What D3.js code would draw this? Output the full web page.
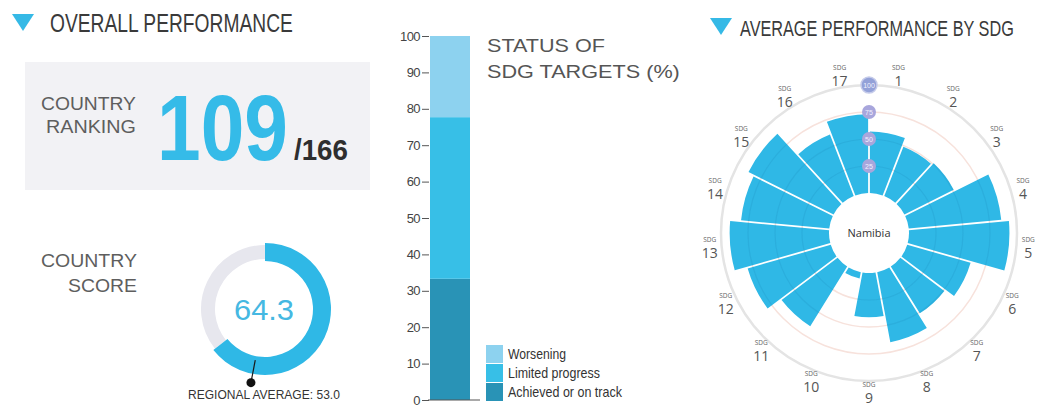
<!DOCTYPE html>
<html>
<head>
<meta charset="utf-8">
<script src="https://cdn.jsdelivr.net/npm/d3@7/dist/d3.min.js"></script>
<style>
  html, body { margin: 0; padding: 0; background: #ffffff; }
  svg { display: block; }
  .plain { font-family: "Liberation Sans", Arial, sans-serif; }
  .human { font-family: "Open Sans", "Noto Sans", sans-serif; }
</style>
</head>
<body>
<svg id="chart" width="1039" height="408"></svg>
<script>
// ---- Data ----
const countryName = "Namibia";
const countryRank = 109;
const countriesRanked = 166;
const countryScore = 64.3;
const regionalAverage = 53.0;

const statusCategories = ["Achieved or on track", "Limited progress", "Worsening"];
const statusShares = [33.3, 44.4, 22.3];
const statusTicks = [0, 10, 20, 30, 40, 50, 60, 70, 80, 90, 100];

const sdgGoals = [1, 2, 3, 4, 5, 6, 7, 8, 9, 10, 11, 12, 13, 14, 15, 16, 17];
const sdgScores = [57, 49, 51, 86, 93, 61, 51, 66, 41, 6, 65, 80, 92, 82, 88, 61, 73];
const radialTicks = [25, 50, 75, 100];

// ---- Palette ----
const BLUE = "#2fb8e6";
const statusColors = { "Achieved or on track": "#2993b6", "Limited progress": "#37bfe7", "Worsening": "#8dd2ef" };

const svg = d3.select("#chart");

// Text squeezed horizontally to a given width (condensed look)
function fitText(parent, x, y, text, size, width, opts = {}) {
  const g = parent.append("g").attr("transform", `translate(${x},${y})`);
  const t = g.append("text")
    .attr("class", opts.cls || "plain")
    .attr("font-size", size)
    .attr("fill", opts.fill || "#333")
    .attr("font-weight", opts.weight || "normal")
    .text(text);
  const natural = t.node().getComputedTextLength();
  const k = width / natural;
  const anchor = opts.anchor || "start";
  const dx = anchor === "end" ? -width : anchor === "middle" ? -width / 2 : 0;
  t.attr("transform", `translate(${dx},0) scale(${k},1)`);
  return t;
}

// Section header with a small downward triangle
function header(x, y, tx, text, size, len) {
  svg.append("path")
    .attr("d", `M${x},${y} L${x + 22},${y} L${x + 11},${y + 17} Z`)
    .attr("fill", "#35b9e6");
  fitText(svg, tx, y + 18, text, size, len, { fill: "#3a3a3a" });
}
header(12, 14, 50, "OVERALL PERFORMANCE", 26, 243);
header(710, 18, 740, "AVERAGE PERFORMANCE BY SDG", 22, 274);

// ---- Country ranking panel ----
svg.append("rect").attr("x", 25).attr("y", 62).attr("width", 345).attr("height", 128).attr("fill", "#f2f2f5");
fitText(svg, 136, 110, "COUNTRY", 18, 95, { anchor: "end", fill: "#5e5e5e" });
fitText(svg, 136, 133, "RANKING", 18, 90, { anchor: "end", fill: "#5e5e5e" });
fitText(svg, 157, 160, String(countryRank), 93, 131, { fill: "#35bbe8", weight: "bold" });
fitText(svg, 294, 160, "/" + countriesRanked, 30, 54, { fill: "#2e2e2e", weight: "bold" });

// ---- Country score gauge ----
fitText(svg, 137, 267, "COUNTRY", 18, 96, { anchor: "end", fill: "#5e5e5e" });
fitText(svg, 137, 292, "SCORE", 18, 69, { anchor: "end", fill: "#5e5e5e" });

const gauge = svg.append("g").attr("transform", "translate(265,309)");
const turn = d3.scaleLinear().domain([0, 100]).range([0, 2 * Math.PI]);
gauge.append("path")
  .attr("d", d3.arc().innerRadius(50).outerRadius(64).startAngle(turn(countryScore)).endAngle(turn(100))())
  .attr("fill", "#e7e7ee");
gauge.append("path")
  .attr("d", d3.arc().innerRadius(48).outerRadius(66).startAngle(0).endAngle(turn(countryScore))())
  .attr("fill", BLUE);
fitText(gauge, -1, 11, countryScore.toFixed(1), 30, 60, { anchor: "middle", fill: "#45b8e2" });
// regional average marker
const ra = turn(regionalAverage);
gauge.append("line")
  .attr("x1", 52 * Math.sin(ra)).attr("y1", -52 * Math.cos(ra))
  .attr("x2", 74 * Math.sin(ra)).attr("y2", -74 * Math.cos(ra))
  .attr("stroke", "#1a1a1a").attr("stroke-width", 1.2);
gauge.append("circle")
  .attr("cx", 75 * Math.sin(ra)).attr("cy", -75 * Math.cos(ra)).attr("r", 4.5)
  .attr("fill", "#111");
fitText(svg, 188, 399, "REGIONAL AVERAGE: " + regionalAverage.toFixed(1), 12, 152, { fill: "#333" });

// ---- Status of SDG targets (stacked bar) ----
const y = d3.scaleLinear().domain([0, 100]).range([400, 36]);
const barX = 430, barW = 40;
let acc = 0;
const stackRows = statusCategories.map((c, i) => {
  const row = { cat: c, y0: acc, y1: acc + statusShares[i] };
  acc += statusShares[i];
  return row;
});
svg.append("g").selectAll("rect").data(stackRows).join("rect")
  .attr("x", barX).attr("width", barW)
  .attr("y", d => y(d.y1)).attr("height", d => y(d.y0) - y(d.y1))
  .attr("fill", d => statusColors[d.cat]);

const yAxis = svg.append("g").attr("class", "plain")
  .attr("transform", `translate(${barX - 1},0)`)
  .call(d3.axisLeft(y).tickValues(statusTicks).tickSize(7).tickPadding(2));
yAxis.select(".domain").remove();
yAxis.selectAll(".tick line").attr("stroke", "#555");
yAxis.selectAll(".tick text").attr("font-size", 13).attr("fill", "#444").attr("letter-spacing", -0.6);
svg.append("line").attr("x1", barX - 2).attr("x2", 480).attr("y1", y(0)).attr("y2", y(0))
  .attr("stroke", "#555").attr("stroke-width", 1);

fitText(svg, 487, 52, "STATUS OF", 19, 118, { fill: "#555" });
fitText(svg, 487, 78, "SDG TARGETS (%)", 19, 193, { fill: "#555" });

const legendOrder = ["Worsening", "Limited progress", "Achieved or on track"];
const legendWidths = { "Worsening": 58, "Limited progress": 92, "Achieved or on track": 114 };
const leg = svg.append("g").selectAll("g").data(legendOrder).join("g")
  .attr("transform", (d, i) => `translate(486,${345 + i * 19})`);
leg.append("rect").attr("width", 17).attr("height", 18).attr("fill", d => statusColors[d]);
leg.each(function (d) {
  fitText(d3.select(this), 22, 14, d, 14, legendWidths[d], { fill: "#333" });
});

// ---- Average performance by SDG (radial bars) ----
const cx = 869, cy = 233;
const r = d3.scaleLinear().domain([0, 100]).range([40, 148]);
const step = 2 * Math.PI / sdgGoals.length;
const polar = svg.append("g").attr("transform", `translate(${cx},${cy})`);

// reference rings
polar.selectAll("circle.grid").data(radialTicks).join("circle")
  .attr("class", "grid")
  .attr("r", d => r(d)).attr("fill", "none")
  .attr("stroke", d => d === 100 ? "#e4e4e4" : "#f7e2dc")
  .attr("stroke-width", d => d === 100 ? 2.5 : 1.5);

const barArc = d3.arc()
  .innerRadius(r(0))
  .outerRadius(d => r(d.v))
  .startAngle(d => d.i * step)
  .endAngle(d => (d.i + 1) * step)
  .padAngle(0.016).padRadius(110);
const sdgRows = sdgGoals.map((g, i) => ({ g, i, v: sdgScores[i] }));

const clip = svg.append("defs").append("clipPath").attr("id", "barsClip");
clip.selectAll("path").data(sdgRows).join("path").attr("d", barArc);

polar.selectAll("path.bar").data(sdgRows).join("path")
  .attr("class", "bar").attr("d", barArc).attr("fill", BLUE);

// faint rings showing through the bars
polar.append("g").attr("clip-path", "url(#barsClip)")
  .selectAll("circle").data(radialTicks.slice(0, 3)).join("circle")
  .attr("r", d => r(d)).attr("fill", "none")
  .attr("stroke", "#1a7fae").attr("stroke-opacity", 0.16).attr("stroke-width", 1.2);

// centre label
polar.append("text").attr("class", "human")
  .attr("y", 4).attr("text-anchor", "middle").attr("font-size", 11).attr("fill", "#333")
  .text(countryName);

// scale badges along the top spoke
const badges = polar.selectAll("g.badge").data(radialTicks).join("g")
  .attr("class", "badge").attr("transform", d => `translate(0,${-r(d)})`);
badges.append("circle").attr("r", d => d === 100 ? 8 : 7)
  .attr("fill", d => d === 100 ? "#93a1d8" : "#a8a6dc")
  .attr("stroke", d => d === 100 ? "#c5cbea" : "none").attr("stroke-width", 1.5);
badges.append("text").attr("class", "plain")
  .attr("y", 2.5).attr("text-anchor", "middle").attr("font-size", 7).attr("fill", "#f1f1ff")
  .text(d => d);

// goal labels around the ring
const labR = 160;
const goalLbl = polar.selectAll("g.goal").data(sdgRows).join("g")
  .attr("class", "goal")
  .attr("transform", d => {
    const a = (d.i + 0.5) * step;
    return `translate(${labR * Math.sin(a)},${-labR * Math.cos(a)})`;
  });
goalLbl.append("text").attr("class", "human")
  .attr("y", -6).attr("text-anchor", "middle").attr("font-size", 6.5).attr("fill", "#666")
  .text("SDG");
goalLbl.append("text").attr("class", "human")
  .attr("y", 10).attr("text-anchor", "middle").attr("font-size", 14).attr("fill", "#555")
  .text(d => d.g);
</script>
</body>
</html>
